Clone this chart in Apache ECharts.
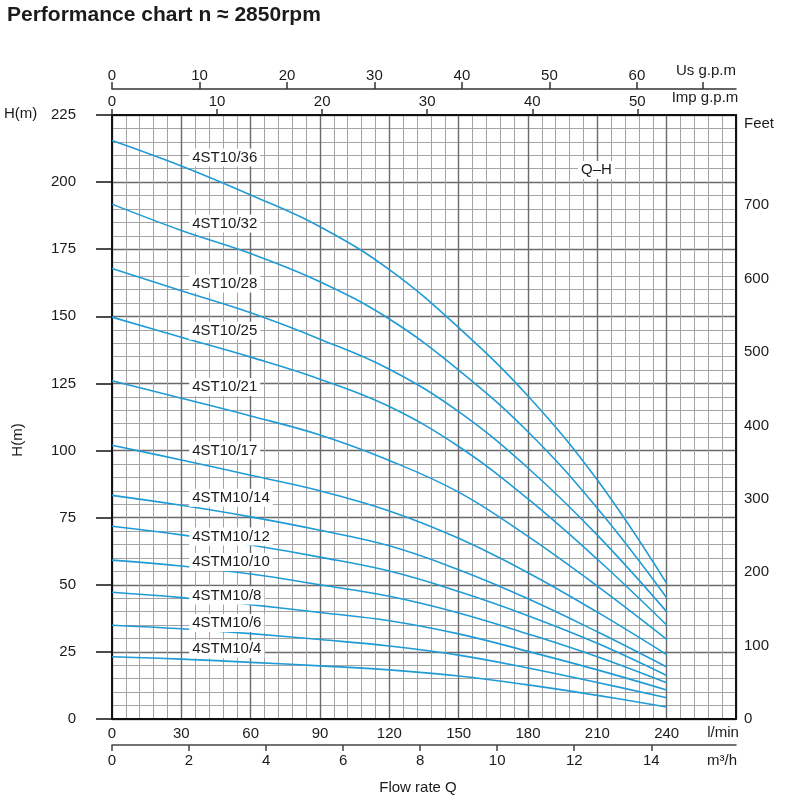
<!DOCTYPE html>
<html lang="en">
<head>
    <meta charset="UTF-8"/>
    <title>Performance chart</title>
    <script src="https://cdn.jsdelivr.net/npm/echarts@6/dist/echarts.min.js"></script>
</head>
<body style="margin:0;background:#fff">
<div id="main" style="width:800px;height:806px;"></div>

<script type="text/javascript">
    // flow points (l/min) where the curves were read
    var flowLpm = [0, 30, 60, 90, 120, 150, 180, 210, 240];

    var models = ['4ST10/36', '4ST10/32', '4ST10/28', '4ST10/25', '4ST10/21', '4ST10/17',
        '4STM10/14', '4STM10/12', '4STM10/10', '4STM10/8', '4STM10/6', '4STM10/4'];

    // head H(m) per model
    var head36 = [215.5, 206.0, 195.2, 183.4, 167.4, 145.8, 120.3, 89.0, 50.5];
    var head32 = [191.8, 182.0, 173.4, 162.9, 149.0, 130.0, 107.0, 78.5, 45.2];
    var head28 = [167.8, 159.5, 151.3, 141.5, 130.3, 114.5, 93.5, 68.5, 40.0];
    var head25 = [149.7, 142.2, 134.8, 126.6, 116.4, 101.5, 82.0, 59.5, 35.0];
    var head21 = [126.0, 119.5, 112.9, 105.8, 96.3, 84.5, 68.0, 49.5, 29.7];
    var head17 = [102.0, 96.5, 90.8, 85.0, 77.5, 67.3, 54.5, 39.8, 24.0];
    var head14 = [83.3, 79.6, 75.3, 70.3, 64.5, 55.6, 44.8, 32.5, 19.4];
    var head12 = [71.8, 68.6, 64.8, 60.3, 55.1, 47.5, 38.5, 28.2, 16.2];
    var head10 = [59.2, 57.0, 54.0, 50.0, 45.7, 39.5, 31.7, 23.2, 13.5];
    var head8 = [47.2, 45.2, 42.6, 39.7, 36.6, 31.7, 25.2, 18.3, 10.8];
    var head6 = [34.9, 33.6, 31.8, 29.6, 27.2, 23.8, 19.0, 13.6, 7.9];
    var head4 = [23.2, 22.3, 21.1, 19.8, 18.3, 16.0, 12.7, 8.8, 4.5];
    var heads = [head36, head32, head28, head25, head21, head17, head14, head12, head10, head8, head6, head4];

    // tick labels of each axis
    var lpmTicks = [0, 30, 60, 90, 120, 150, 180, 210, 240];
    var m3hTicks = [0, 2, 4, 6, 8, 10, 12, 14];
    var usGpmTicks = [0, 10, 20, 30, 40, 50, 60];
    var impGpmTicks = [0, 10, 20, 30, 40, 50];
    var feetTicks = [0, 100, 200, 300, 400, 500, 600, 700];

    // where the model names sit (data coords)
    var labelQ = 33.4;
    var labelH = [209.2, 184.6, 162.2, 144.6, 123.7, 100.0, 82.4, 68.0, 58.5, 46.0, 35.8, 26.0];

    var qMax = 270, hMax = 225;
    var txt = '#1c1a1b';
    var font = 'Liberation Sans, Arial, Helvetica, sans-serif';
    var fs = 15;

    var myChart = echarts.init(document.getElementById('main'));

    var series = [];
    models.forEach(function (name, k) {
        series.push({
            name: name,
            type: 'line',
            smooth: 0.4,
            showSymbol: false,
            silent: true,
            z: 3,
            lineStyle: {color: '#1f9bd6', width: 1.6},
            data: flowLpm.map(function (q, i) { return [q, heads[k][i]]; })
        });
    });
    var tagLabel = {
        show: true, formatter: '{b}', color: txt, opacity: 1,
        fontSize: fs, fontFamily: font,
        backgroundColor: '#fff', padding: [2, 3, 1, 3]
    };
    // model name tags with white box
    series.push({
        type: 'scatter',
        symbolSize: 0,
        silent: true,
        z: 10,
        itemStyle: {opacity: 1},
        data: models.map(function (name, k) { return {name: name, value: [labelQ, labelH[k]]}; }),
        label: Object.assign({position: 'right', distance: 0}, tagLabel)
    });
    series.push({
        type: 'scatter',
        symbolSize: 0,
        silent: true,
        z: 10,
        itemStyle: {opacity: 1},
        data: [{name: 'Q\u2013H', value: [209.6, 204.5]}],
        label: Object.assign({position: 'inside'}, tagLabel)
    });

    var labelBase = {color: txt, fontSize: fs, fontFamily: font};

    var option = {
        animation: false,
        title: {
            text: 'Performance chart n \u2248 2850rpm',
            left: 2, top: 0,
            textStyle: {fontSize: 21, fontWeight: 'bold', color: txt, fontFamily: font}
        },
        grid: {left: 112, right: 64, top: 115, bottom: 87},
        xAxis: [
            {   // l/min, main axis carrying the grid
                type: 'value', min: 0, max: qMax, interval: 30, position: 'bottom',
                axisLine: {show: true, onZero: false, lineStyle: {color: '#111', width: 2}},
                axisTick: {show: false},
                axisLabel: Object.assign({margin: 7, customValues: lpmTicks}, labelBase),
                splitLine: {show: true, lineStyle: {color: '#6a6a6a', width: 1.4}},
                minorTick: {show: false, splitNumber: 5},
                minorSplitLine: {show: true, lineStyle: {color: '#a4a4a4', width: 1}}
            },
            {   // m3/h
                type: 'value', min: 0, max: qMax * 0.06, position: 'bottom', offset: 26,
                axisLine: {show: true, onZero: false, lineStyle: {color: '#444', width: 1.5}},
                axisTick: {show: true, length: 6, customValues: m3hTicks, lineStyle: {color: '#444', width: 1.5}},
                axisLabel: Object.assign({margin: 8, customValues: m3hTicks}, labelBase),
                splitLine: {show: false}
            },
            {   // Imp g.p.m
                type: 'value', min: 0, max: qMax / 4.54609, position: 'top', offset: 0,
                axisLine: {show: true, onZero: false, lineStyle: {color: '#111', width: 2}},
                axisTick: {show: true, length: 6, customValues: impGpmTicks, lineStyle: {color: '#333', width: 1.5}},
                axisLabel: Object.assign({margin: 6, customValues: impGpmTicks}, labelBase),
                splitLine: {show: false}
            },
            {   // US g.p.m
                type: 'value', min: 0, max: qMax / 3.78541, position: 'top', offset: 26,
                axisLine: {show: true, onZero: false, lineStyle: {color: '#333', width: 1.5}},
                axisTick: {show: true, length: 7, customValues: usGpmTicks, lineStyle: {color: '#333', width: 1.5}},
                axisLabel: Object.assign({margin: 6, customValues: usGpmTicks}, labelBase),
                splitLine: {show: false}
            }
        ],
        yAxis: [
            {   // H (m)
                type: 'value', min: 0, max: hMax, interval: 25, position: 'left',
                axisLine: {show: true, onZero: false, lineStyle: {color: '#111', width: 2}},
                axisTick: {show: true, length: 16, lineStyle: {color: '#111', width: 1.5}},
                axisLabel: Object.assign({margin: 36}, labelBase),
                splitLine: {show: true, lineStyle: {color: '#6a6a6a', width: 1.4}},
                minorTick: {show: false, splitNumber: 5},
                minorSplitLine: {show: true, lineStyle: {color: '#a4a4a4', width: 1}}
            },
            {   // Feet (scale as printed on the sheet)
                type: 'value', min: 0, max: 823, position: 'right',
                axisLine: {show: true, onZero: false, lineStyle: {color: '#111', width: 2}},
                axisTick: {show: false},
                axisLabel: Object.assign({margin: 8, customValues: feetTicks}, labelBase),
                splitLine: {show: false}
            }
        ],
        graphic: [
            {type: 'text', left: 4, top: 106, style: {text: 'H(m)', fill: txt, fontSize: fs, fontFamily: font}},
            {type: 'text', x: 18, y: 440, rotation: Math.PI / 2,
                style: {text: 'H(m)', fill: txt, fontSize: fs, fontFamily: font, align: 'center', verticalAlign: 'middle'}},
            {type: 'text', left: 744, top: 116, style: {text: 'Feet', fill: txt, fontSize: fs, fontFamily: font}},
            {type: 'text', x: 706, y: 71, style: {text: 'Us g.p.m', fill: txt, fontSize: fs, fontFamily: font, align: 'center', verticalAlign: 'middle'}},
            {type: 'text', x: 705, y: 98, style: {text: 'Imp g.p.m', fill: txt, fontSize: fs, fontFamily: font, align: 'center', verticalAlign: 'middle'}},
            {type: 'line', shape: {x1: 703, y1: 82, x2: 703, y2: 89}, style: {stroke: '#333', lineWidth: 1.5}},
            {type: 'text', x: 723, y: 733, style: {text: 'l/min', fill: txt, fontSize: fs, fontFamily: font, align: 'center', verticalAlign: 'middle'}},
            {type: 'text', x: 722, y: 761, style: {text: 'm\u00b3/h', fill: txt, fontSize: fs, fontFamily: font, align: 'center', verticalAlign: 'middle'}},
            {type: 'text', x: 418, y: 788, style: {text: 'Flow rate Q', fill: txt, fontSize: fs, fontFamily: font, align: 'center', verticalAlign: 'middle'}}
        ],
        series: series
    };
    myChart.setOption(option);
</script>
</body>
</html>
